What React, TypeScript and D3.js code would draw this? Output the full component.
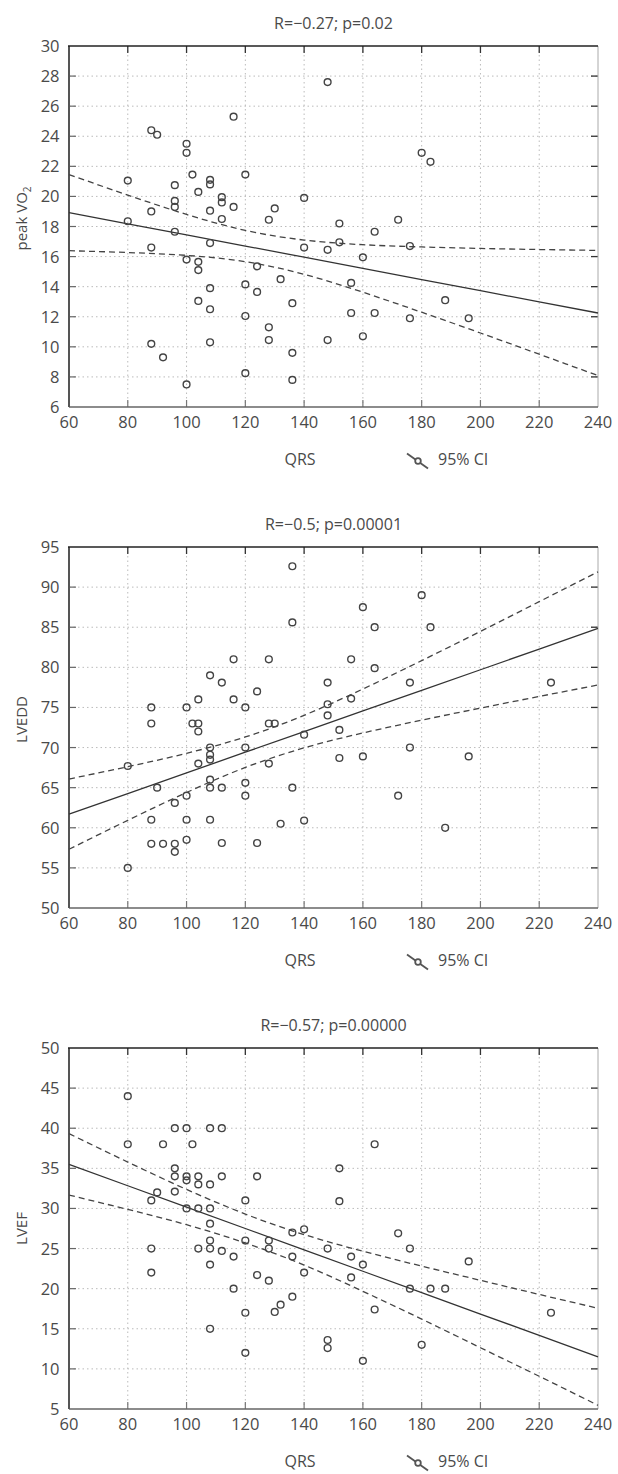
import React from 'react';
import * as d3 from 'd3';

// QRS (ms) vs. peak VO2
const vo2Points: [number, number][] = [
  [80, 18.35], [80, 21.05], [88, 24.4], [90, 24.1], [88, 19.0], [88, 16.6], [88, 10.2], [92, 9.3],
  [96, 20.75], [96, 19.7], [96, 19.3], [96, 17.65], [100, 23.5], [100, 22.9], [100, 15.8], [100, 7.5],
  [102, 21.45], [104, 20.3], [104, 15.65], [104, 15.1], [104, 13.05], [108, 21.1], [108, 20.8],
  [108, 19.05], [108, 16.9], [108, 13.9], [108, 12.5], [108, 10.3], [112, 19.95], [112, 19.6],
  [112, 18.5], [116, 25.3], [116, 19.3], [120, 21.45], [120, 14.15], [120, 12.05], [120, 8.25],
  [124, 15.35], [124, 13.65], [128, 18.45], [128, 11.3], [128, 10.45], [130, 19.2], [132, 14.5],
  [136, 12.9], [136, 9.6], [136, 7.8], [140, 19.9], [140, 16.6], [148, 27.6], [148, 16.45],
  [148, 10.45], [152, 18.2], [152, 16.95], [156, 14.25], [156, 12.25], [160, 15.95], [160, 10.7],
  [164, 17.65], [164, 12.25], [172, 18.45], [176, 16.7], [176, 11.9], [180, 22.9], [183, 22.3],
  [188, 13.1], [196, 11.9],
];

const lveddPoints: [number, number][] = [
  [80, 67.7], [80, 55], [88, 75], [88, 73], [88, 61], [88, 58], [90, 65], [92, 58], [96, 63.1],
  [96, 58], [96, 57], [100, 75], [100, 64], [100, 61], [100, 58.5], [102, 73], [104, 76], [104, 73],
  [104, 72], [104, 68], [108, 79], [108, 70], [108, 69.1], [108, 68.5], [108, 66], [108, 65],
  [108, 61], [112, 78.1], [112, 65], [112, 58.1], [116, 81], [116, 76], [120, 75], [120, 70],
  [120, 65.6], [120, 64], [124, 77], [124, 58.1], [128, 81], [128, 73], [128, 68], [130, 73],
  [132, 60.5], [136, 92.6], [136, 85.6], [136, 65], [140, 71.6], [140, 60.9], [148, 78.1],
  [148, 75.4], [148, 74], [152, 72.2], [152, 68.7], [156, 81], [156, 76.1], [160, 87.5], [160, 68.9],
  [164, 85], [164, 79.9], [172, 64], [176, 78.1], [176, 70], [180, 89], [183, 85], [188, 60],
  [196, 68.9], [224, 78.1],
];

const lvefPoints: [number, number][] = [
  [80, 44], [80, 38], [88, 31], [88, 25], [88, 22], [90, 32], [92, 38], [96, 40], [96, 35], [96, 34],
  [96, 32.1], [100, 40], [100, 34], [100, 33.5], [100, 30], [102, 38], [104, 34], [104, 33], [104, 30],
  [104, 25], [108, 40], [108, 33], [108, 30], [108, 28.1], [108, 26], [108, 25], [108, 23], [108, 15],
  [112, 40], [112, 34], [112, 24.7], [116, 24], [116, 20], [120, 31], [120, 26], [120, 17], [120, 12],
  [124, 34], [124, 21.7], [128, 26], [128, 25], [128, 21], [130, 17.1], [132, 18], [136, 27],
  [136, 24], [136, 19], [140, 27.4], [140, 22], [148, 25], [148, 13.6], [148, 12.6], [152, 35],
  [152, 30.9], [156, 24], [156, 21.4], [160, 23], [160, 11], [164, 38], [164, 17.4], [172, 26.9],
  [176, 25], [176, 20], [180, 13], [183, 20], [188, 20], [196, 23.4], [224, 17],
];

// regression line and 95% CI, read at these QRS values
const fitQrs = [60, 80, 100, 120, 140, 160, 180, 200, 220, 240];
const vo2Fit = [18.92, 18.18, 17.44, 16.7, 15.96, 15.21, 14.47, 13.73, 12.99, 12.25];
const vo2Upper = [21.45, 20.09, 18.8, 17.74, 17.1, 16.79, 16.64, 16.54, 16.47, 16.41];
const vo2Lower = [16.39, 16.27, 16.08, 15.66, 14.82, 13.63, 12.3, 10.92, 9.51, 8.09];
const lveddFit = [61.7, 64.27, 66.84, 69.42, 71.99, 74.56, 77.13, 79.7, 82.28, 84.85];
const lveddUpper = [66.08, 67.61, 69.28, 71.32, 74.02, 77.3, 80.84, 84.48, 88.19, 91.9];
const lveddLower = [57.32, 60.93, 64.4, 67.52, 69.96, 71.82, 73.42, 74.92, 76.37, 77.8];
const lvefFit = [35.5, 32.83, 30.17, 27.5, 24.84, 22.17, 19.51, 16.84, 14.18, 11.51];
const lvefUpper = [39.33, 35.78, 32.37, 29.3, 26.74, 24.67, 22.81, 21.04, 19.28, 17.56];
const lvefLower = [31.67, 29.88, 27.97, 25.7, 22.94, 19.67, 16.21, 12.64, 9.08, 5.46];

const qrsTicks = [60, 80, 100, 120, 140, 160, 180, 200, 220, 240];
const vo2Ticks = [6, 8, 10, 12, 14, 16, 18, 20, 22, 24, 26, 28, 30];
const lveddTicks = [50, 55, 60, 65, 70, 75, 80, 85, 90, 95];
const lvefTicks = [5, 10, 15, 20, 25, 30, 35, 40, 45, 50];

const titles = ['R=\u22120.27; p=0.02', 'R=\u22120.5; p=0.00001', 'R=\u22120.57; p=0.00000'];

const W = 618;
const H = 1474;
const left = 69;
const right = 598;
const plotH = 361;
const font = '"Open Sans", "Noto Sans", sans-serif';
const ink = '#4a4a4a';

type PanelProps = {
  top: number;
  points: [number, number][];
  ticks: number[];
  fit: number[];
  upper: number[];
  lower: number[];
  title: string;
  yLabel: React.ReactNode;
  labelShift?: number;
};

const Panel = ({ top, points, ticks, fit, upper, lower, title, yLabel, labelShift = 0 }: PanelProps) => {
  const bottom = top + plotH;
  const x = d3.scaleLinear().domain([60, 240]).range([left, right]);
  const y = d3.scaleLinear().domain([ticks[0], ticks[ticks.length - 1]]).range([bottom, top]);

  const curve = d3
    .line<number>()
    .x((d, i) => x(fitQrs[i]))
    .y(d => y(d))
    .curve(d3.curveNatural);
  const straight = d3
    .line<number>()
    .x((d, i) => x(fitQrs[i]))
    .y(d => y(d));

  const innerX = qrsTicks.slice(1, -1);
  const innerY = ticks.slice(1, -1);

  return (
    <g>
      {/* dotted grid */}
      {innerX.map(t => (
        <line key={'gx' + t} x1={x(t)} x2={x(t)} y1={top} y2={bottom}
          stroke="#bbb" strokeWidth={1} strokeDasharray="1.5,3" />
      ))}
      {innerY.map(t => (
        <line key={'gy' + t} x1={left} x2={right} y1={y(t)} y2={y(t)}
          stroke="#bbb" strokeWidth={1} strokeDasharray="1.5,3" />
      ))}

      {/* inward ticks */}
      {innerX.map(t => (
        <g key={'tx' + t}>
          <line x1={x(t)} x2={x(t)} y1={top} y2={top + 7} stroke="#333" strokeWidth={1.3} />
          <line x1={x(t)} x2={x(t)} y1={bottom} y2={bottom - 7} stroke="#777" strokeWidth={1.2} />
        </g>
      ))}
      {innerY.map(t => (
        <g key={'ty' + t}>
          <line x1={left} x2={left + 7} y1={y(t)} y2={y(t)} stroke="#666" strokeWidth={1.2} />
          <line x1={right} x2={right - 7} y1={y(t)} y2={y(t)} stroke="#333" strokeWidth={1.3} />
        </g>
      ))}

      {/* frame */}
      <line x1={right} x2={right} y1={top} y2={bottom} stroke="#aaa" strokeWidth={1} />
      <line x1={left} x2={right} y1={bottom} y2={bottom} stroke="#666" strokeWidth={1.5} />
      <line x1={left} x2={left} y1={top} y2={bottom} stroke="#555" strokeWidth={2} />
      <line x1={left - 1} x2={right} y1={top} y2={top} stroke="#222" strokeWidth={1.7} />

      {/* confidence band and fit */}
      <path d={curve(upper) || ''} fill="none" stroke="#444" strokeWidth={1.3} strokeDasharray="6,4" />
      <path d={curve(lower) || ''} fill="none" stroke="#444" strokeWidth={1.3} strokeDasharray="6,4" />
      <path d={straight(fit) || ''} fill="none" stroke="#333" strokeWidth={1.3} />

      {points.map((p, i) => (
        <circle key={i} cx={x(p[0])} cy={y(p[1])} r={3.4} fill="none" stroke="#444" strokeWidth={1.4} />
      ))}

      {/* tick labels */}
      {qrsTicks.map(t => (
        <text key={'lx' + t} x={x(t)} y={bottom + 20.5} textAnchor="middle"
          fontFamily={font} fontSize={16.5} fill={ink}>{t}</text>
      ))}
      {ticks.map(t => (
        <text key={'ly' + t} x={left - 9.5} y={y(t) + 6} textAnchor="end"
          fontFamily={font} fontSize={16.5} fill={ink}>{t}</text>
      ))}

      <text x={(left + right) / 2} y={top - 17.5} textAnchor="middle"
        fontFamily={font} fontSize={16} fill={ink}>{title}</text>

      <text transform={`translate(27, ${(top + bottom) / 2 + labelShift}) rotate(-90)`} textAnchor="middle"
        fontFamily={font} fontSize={15} fill={ink}>{yLabel}</text>

      <text x={300} y={top + 419} textAnchor="middle" fontFamily={font} fontSize={16} fill={ink}>QRS</text>

      {/* legend */}
      <line x1={407} x2={428} y1={top + 407.5} y2={top + 422.5} stroke="#555" strokeWidth={1.8} />
      <circle cx={418} cy={top + 415} r={2.8} fill="#fff" stroke="#555" strokeWidth={1.8} />
      <text x={438} y={top + 419} fontFamily={font} fontSize={16} fill={ink}>95% CI</text>
    </g>
  );
};

const App = () => {
  const tops = [46, 547, 1048];
  return (
    <svg width={W} height={H} style={{ position: 'absolute', left: 0, top: 0, background: '#fff' }}>
      <Panel top={tops[0]} points={vo2Points} ticks={vo2Ticks} fit={vo2Fit} upper={vo2Upper}
        lower={vo2Lower} title={titles[0]} labelShift={-8}
        yLabel={<>peak VO<tspan fontSize={10} dy={4}>2</tspan></>} />
      <Panel top={tops[1]} points={lveddPoints} ticks={lveddTicks} fit={lveddFit} upper={lveddUpper}
        lower={lveddLower} title={titles[1]} yLabel="LVEDD" labelShift={-8} />
      <Panel top={tops[2]} points={lvefPoints} ticks={lvefTicks} fit={lvefFit} upper={lvefUpper}
        lower={lvefLower} title={titles[2]} yLabel="LVEF" />
    </svg>
  );
};

export default App;
